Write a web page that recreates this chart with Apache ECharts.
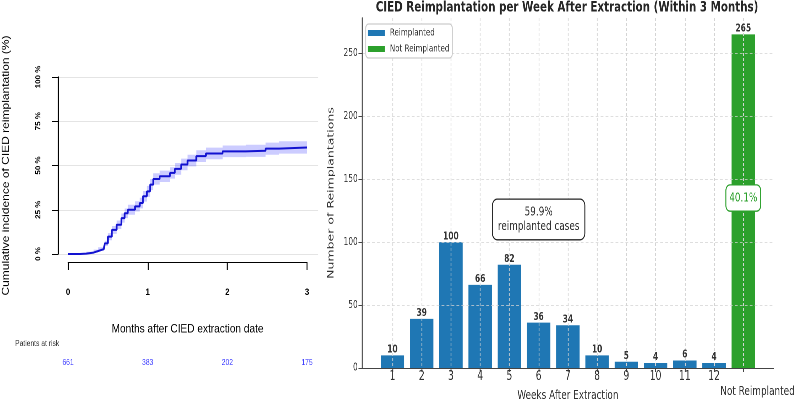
<!DOCTYPE html>
<html><head><meta charset="utf-8">
<script src="https://cdn.jsdelivr.net/npm/echarts@6/dist/echarts.min.js"></script>
<style>
html,body{margin:0;padding:0;background:#fff;width:796px;height:400px;overflow:hidden;position:relative}
#L{position:absolute;left:0;top:0;width:393px;height:400px;transform:scaleX(0.84);transform-origin:0 0}
#R{position:absolute;left:320px;top:0;width:670px;height:400px;transform:scaleX(0.71);transform-origin:0 0}
</style>
</head><body><div id="L"></div><div id="R"></div>
<script>
// ---- Left panel: cumulative incidence of reimplantation ----
const months    = [0, 0.15, 0.23, 0.32, 0.38, 0.45, 0.46, 0.50, 0.55, 0.61, 0.67, 0.71, 0.75, 0.84, 0.90, 0.94, 0.99, 1.03, 1.07, 1.15, 1.28, 1.34, 1.42, 1.50, 1.61, 1.73, 1.94, 2.23, 2.48, 2.65, 3.0];
const incidence = [0, 0.2, 0.8, 1.7, 2.8, 3.8, 6.0, 9.8, 13.6, 16.5, 20.3, 23.0, 25.0, 26.9, 28.8, 32.6, 35.4, 39.2, 42.4, 43.9, 45.8, 48.1, 50.6, 52.8, 55.3, 56.8, 58.0, 58.3, 59.5, 60.2, 60.2];
const ciLower   = [0, 0, 0.3, 0.9, 1.8, 2.6, 4.5, 7.8, 11.4, 14.1, 17.7, 20.3, 22.2, 24.0, 25.8, 29.6, 32.3, 36.1, 39.2, 40.7, 42.6, 44.8, 47.3, 49.5, 52.0, 53.5, 54.7, 54.9, 56.1, 56.7, 56.7];
const ciUpper   = [0, 0.5, 1.3, 2.5, 3.8, 5.0, 7.5, 11.8, 15.8, 18.9, 22.9, 25.7, 27.8, 29.8, 31.8, 35.6, 38.5, 42.3, 45.6, 47.1, 49.0, 51.4, 53.9, 56.1, 58.6, 60.1, 61.3, 61.7, 62.9, 63.7, 63.7];
const riskTimes  = [0, 1, 2, 3];
const riskCounts = [661, 383, 202, 175];

// ---- Right panel: reimplantation per week ----
const weekLabels = ['1','2','3','4','5','6','7','8','9','10','11','12','Not Reimplanted'];
const reimplanted = [10, 39, 100, 66, 82, 36, 34, 10, 5, 4, 6, 4];
const notReimplanted = [265];
const yTicksRight = [0, 50, 100, 150, 200, 250];

const SANS = '"Liberation Sans", Arial, sans-serif';
const DEJAVU = '"DejaVu Sans", sans-serif';

const sumRe = reimplanted.reduce((a, b) => a + b, 0);
const total = sumRe + notReimplanted[0];
const pctRe = (sumRe / total * 100).toFixed(1) + '%';
const pctNot = (notReimplanted[0] / total * 100).toFixed(1) + '%';
const xIdx = weekLabels.map((_, i) => i);
const nrIndex = weekLabels.length - 1;
const weekIdx = xIdx.slice(0, nrIndex);
const allBars = reimplanted.map((v, i) => [i, v]).concat(notReimplanted.map(v => [nrIndex, v]));

// ================= LEFT CHART =================
const left = echarts.init(document.getElementById('L'), null, { devicePixelRatio: 2 });
left.setOption({
  animation: false,
  title: { text: 'Patients at risk', left: 18, top: 340, padding: 0,
    textStyle: { fontFamily: SANS, fontWeight: 'normal', fontSize: 8, color: '#333' } },
  grid: [
    { left: 69, right: 14.4, top: 77, bottom: 146, containLabel: false, outerBoundsMode: 'none' },
    { left: 81, right: 27.5, top: 77, bottom: 146, containLabel: false, outerBoundsMode: 'none' }
  ],
  xAxis: [
    { gridIndex: 0, type: 'value', min: -0.12, max: 3.12, show: false },
    { gridIndex: 1, type: 'value', min: 0, max: 3, interval: 1, offset: 8, position: 'bottom',
      axisLine: { show: true, onZero: false, lineStyle: { color: '#000', width: 1 } },
      axisTick: { show: true, length: 8, lineStyle: { color: '#000', width: 1.2 } },
      axisLabel: { margin: 26, fontFamily: SANS, fontWeight: 'bold', fontSize: 9, color: '#000' },
      splitLine: { show: false },
      name: 'Months after CIED extraction date', nameLocation: 'middle', nameGap: 61,
      nameTextStyle: { fontFamily: SANS, fontSize: 12, color: '#000' } },
    { gridIndex: 1, type: 'value', min: 0, max: 3, interval: 1, offset: 100, position: 'bottom',
      axisLine: { show: false, onZero: false }, axisTick: { show: false }, splitLine: { show: false },
      axisLabel: { margin: 5, fontFamily: SANS, fontSize: 8, color: '#3a3aff',
        formatter: v => { const k = riskTimes.indexOf(v); return k >= 0 ? String(riskCounts[k]) : ''; } } }
  ],
  yAxis: [
    { gridIndex: 0, type: 'value', min: 0, max: 100, interval: 25,
      axisLine: { show: false }, axisTick: { show: false }, axisLabel: { show: false },
      splitLine: { show: true, lineStyle: { color: '#e4e4e4', width: 1 } } },
    { gridIndex: 1, type: 'value', min: 0, max: 100, interval: 25, offset: 12,
      axisLine: { show: true, onZero: false, lineStyle: { color: '#000', width: 1.2 } },
      axisTick: { show: true, length: 7, lineStyle: { color: '#000' } },
      axisLabel: { rotate: 90, margin: 19, formatter: '{value} %', fontFamily: SANS, fontWeight: 'bold', fontSize: 8, color: '#000' },
      splitLine: { show: false },
      name: 'Cumulative incidence of CIED reimplantation (%)', nameLocation: 'middle', nameGap: 56,
      nameTextStyle: { fontFamily: SANS, fontSize: 12, color: '#000' } }
  ],
  series: [
    { name: 'ci', type: 'custom', xAxisIndex: 1, yAxisIndex: 1, silent: true, z: 1,
      data: [[0, 0]],
      renderItem: (params, api) => {
        const pts = [api.coord([months[0], ciUpper[0]])];
        for (let i = 1; i < months.length; i++) {
          pts.push(api.coord([months[i], ciUpper[i - 1]]));
          pts.push(api.coord([months[i], ciUpper[i]]));
        }
        for (let i = months.length - 1; i >= 1; i--) {
          pts.push(api.coord([months[i], ciLower[i]]));
          pts.push(api.coord([months[i], ciLower[i - 1]]));
        }
        pts.push(api.coord([months[0], ciLower[0]]));
        return { type: 'polygon', shape: { points: pts }, style: { fill: 'rgba(40,40,255,0.24)' } };
      } },
    { name: 'incidence', type: 'line', xAxisIndex: 1, yAxisIndex: 1, step: 'end', symbol: 'none', z: 4,
      lineStyle: { color: '#1212d0', width: 2 }, data: months.map((m, i) => [m, incidence[i]]) }
  ]
});

// ================= RIGHT CHART =================
const right = echarts.init(document.getElementById('R'), null, { devicePixelRatio: 2 });
const hGrid = { color: '#d4d4d4', type: [4, 3], width: 0.8 };
const vGrid = { color: '#d4d4d4', type: [3, 2], width: 1.1 };
right.setOption({
  animation: false,
  title: { text: 'CIED Reimplantation per Week After Extraction (Within 3 Months)', left: 348, top: 0, padding: 0, textAlign: 'center',
    textStyle: { fontFamily: DEJAVU, fontWeight: 'bold', fontSize: 14.5, color: '#262626' } },
  legend: {
    left: 64.4, top: 24, orient: 'vertical', padding: [3, 4, 3, 3], itemWidth: 24, itemHeight: 6, itemGap: 4, icon: 'rect',
    borderColor: '#cccccc', borderWidth: 1.3, borderRadius: 4, backgroundColor: '#fff', z: 8,
    textStyle: { fontFamily: DEJAVU, fontSize: 10, color: '#333', lineHeight: 12, padding: [0, 0, 0, 2] },
    data: ['Reimplanted', 'Not Reimplanted']
  },
  grid: { left: 59.2, right: 31, top: 18, bottom: 32, containLabel: false, outerBoundsMode: 'none' },
  xAxis: [
    { type: 'value', min: -1.04, max: 13.04, z: 3,
      axisLine: { show: true, onZero: false, lineStyle: { color: '#444', width: 1 } },
      axisTick: { show: true, customValues: xIdx, length: 4, lineStyle: { color: '#444', width: 1.3 } },
      axisLabel: { customValues: weekIdx, margin: 2, showMinLabel: true, showMaxLabel: true, hideOverlap: false,
        fontFamily: DEJAVU, fontSize: 13, color: '#333',
        formatter: v => weekLabels[Math.round(v)] || '' },
      splitLine: { show: true, lineStyle: vGrid },
      name: 'Weeks After Extraction', nameLocation: 'middle', nameGap: 21,
      nameTextStyle: { fontFamily: DEJAVU, fontSize: 12.5, color: '#333' } },
    { type: 'value', min: -1.04, max: 13.04, position: 'bottom', offset: 0,
      axisLine: { show: false, onZero: false }, axisTick: { show: false }, splitLine: { show: false },
      axisLabel: { customValues: [nrIndex], margin: 17, showMinLabel: true, showMaxLabel: true, padding: [0, 0, 0, 40],
        fontFamily: DEJAVU, fontSize: 12.5, color: '#333',
        formatter: v => weekLabels[Math.round(v)] || '' } }
  ],
  yAxis: { type: 'value', min: 0, max: 278, z: 3,
    axisLine: { show: true, onZero: false, lineStyle: { color: '#444', width: 1.4 } },
    axisTick: { show: true, customValues: yTicksRight, length: 5, lineStyle: { color: '#444' } },
    axisLabel: { customValues: yTicksRight, margin: 6, fontFamily: DEJAVU, fontSize: 10.5, color: '#333' },
    splitLine: { show: true, lineStyle: hGrid },
    name: 'Number of Reimplantations', nameLocation: 'middle', nameGap: 27,
    nameTextStyle: { fontFamily: DEJAVU, fontSize: 12.5, color: '#333' } },
  series: [
    { name: 'Reimplanted', type: 'bar', barWidth: 33,
      itemStyle: { color: '#1f77b4' },
      data: reimplanted.map((v, i) => [i, v]),
      markPoint: { symbol: 'circle', symbolSize: 1, itemStyle: { color: 'rgba(0,0,0,0)' }, z: 6,
        data: [{ coord: [5, 118] }],
        label: { show: true, position: 'inside', formatter: pctRe + '\nreimplanted cases', align: 'center',
          backgroundColor: '#fff', borderColor: '#222', borderWidth: 1.3, borderRadius: 6, padding: [5, 7],
          fontFamily: DEJAVU, fontSize: 12.5, lineHeight: 14.7, color: '#333' } } },
    { name: 'Not Reimplanted', type: 'bar', barWidth: 33, barGap: '-100%',
      itemStyle: { color: '#2ca02c' },
      data: notReimplanted.map(v => [nrIndex, v]),
      markPoint: { symbol: 'circle', symbolSize: 1, itemStyle: { color: 'rgba(0,0,0,0)' }, z: 6,
        data: [{ coord: [nrIndex, 135] }],
        label: { show: true, position: 'inside', formatter: pctNot, align: 'center',
          backgroundColor: '#fff', borderColor: '#2ca02c', borderWidth: 1.3, borderRadius: 5, padding: [5.5, 4],
          fontFamily: DEJAVU, fontSize: 12.5, lineHeight: 14, color: '#2ca02c' } } },
    { name: 'bar values', type: 'scatter', z: 5, silent: true, symbolSize: 0,
      data: allBars,
      label: { show: true, position: 'top', distance: 0, fontFamily: DEJAVU, fontWeight: 'bold', fontSize: 10.5, color: '#000',
        formatter: p => p.value[1] } }
  ]
});
</script></body></html>
